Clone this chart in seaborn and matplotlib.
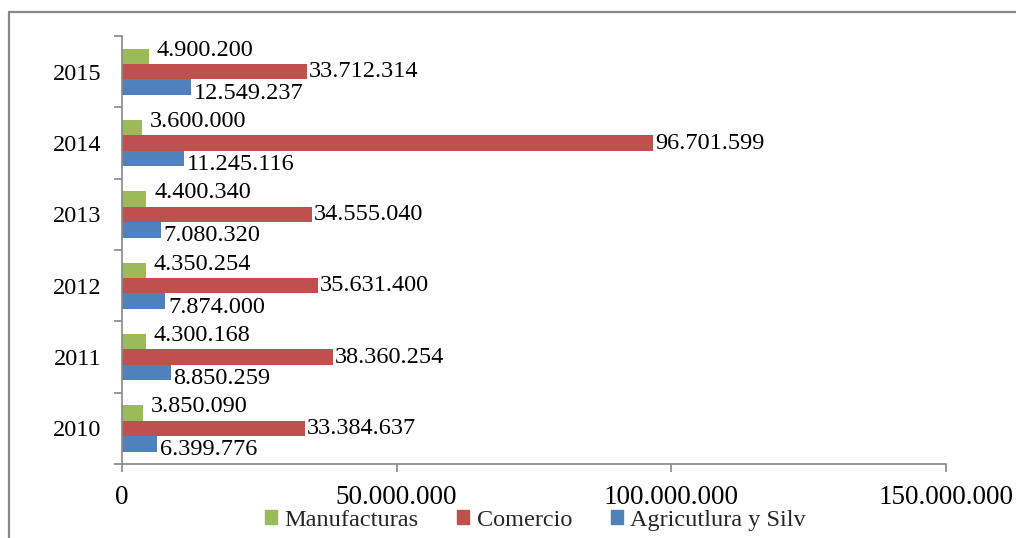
import matplotlib
matplotlib.use("Agg")
import matplotlib.pyplot as plt
from matplotlib.lines import Line2D
from matplotlib.ticker import FixedLocator, FuncFormatter
import seaborn as sns
import pandas as pd

years = ["2015", "2014", "2013", "2012", "2011", "2010"]
series = ["Manufacturas", "Comercio", "Agricutlura y Silv"]
manufacturas = [4900200, 3600000, 4400340, 4350254, 4300168, 3850090]
comercio = [33712314, 96701599, 34555040, 35631400, 38360254, 33384637]
agricultura = [12549237, 11245116, 7080320, 7874000, 8850259, 6399776]
x_ticks = [0, 50000000, 100000000, 150000000]

colors = ["#9BBB59", "#C0504D", "#4F81BD"]
FS = 17.5


def fmt_num(v):
    return f"{int(v):,}".replace(",", ".")


rows = []
for name, vals in zip(series, [manufacturas, comercio, agricultura]):
    for yr, v in zip(years, vals):
        rows.append({"Año": yr, "Serie": name, "Valor": v})
df = pd.DataFrame(rows)

sns.set_theme(style="white")
plt.rcParams["font.family"] = ["Liberation Serif", "DejaVu Serif"]

fig = plt.figure(figsize=(10.16, 5.38), dpi=100)
ax = fig.add_axes([0.120, 0.1375, 0.811, 0.7955])

sns.barplot(
    data=df, y="Año", x="Valor", hue="Serie", order=years, hue_order=series,
    palette=colors, orient="h", width=0.65, ax=ax, legend=True,
    edgecolor="none", linewidth=0, saturation=1,
)

# value labels next to each bar
y_shift = {0: 6, 1: 0, 2: -6}
x_pad = {0: 8, 1: 2, 2: 3}
for i, cont in enumerate(ax.containers):
    for bar in cont:
        w = bar.get_width()
        yc = bar.get_y() + bar.get_height() / 2
        ax.annotate(fmt_num(w), xy=(w, yc), xytext=(x_pad[i], y_shift[i]),
                    textcoords="offset pixels", ha="left", va="center",
                    fontsize=FS, color="black")

ax.set_xlim(0, 150000000)
ax.set_ylim(5.5, -0.5)
ax.set_xlabel("")
ax.set_ylabel("")

ax.xaxis.set_major_locator(FixedLocator(x_ticks))
ax.xaxis.set_major_formatter(FuncFormatter(lambda v, p: fmt_num(v)))
ax.tick_params(axis="x", which="major", length=6, width=1.2, color="#888888",
               direction="out", pad=9, labelsize=19.5, labelcolor="black",
               bottom=True)

ax.set_yticks(range(len(years)))
ax.set_yticklabels(years)
ax.set_yticks([k - 0.5 for k in range(len(years) + 1)], minor=True)
ax.tick_params(axis="y", which="major", length=0, pad=15, labelsize=FS,
               labelcolor="black")
ax.tick_params(axis="y", which="minor", length=6, width=1.2, color="#888888",
               direction="out", left=True)

for side in ["top", "right"]:
    ax.spines[side].set_visible(False)
for side in ["left", "bottom"]:
    ax.spines[side].set_color("#888888")
    ax.spines[side].set_linewidth(1.2)

ax.legend_.remove()
handles = [plt.Rectangle((0, 0), 1, 1, color=c) for c in colors]
fig.legend(handles, series, loc="center", bbox_to_anchor=(0.527, 0.033),
           ncol=3, frameon=False, fontsize=FS, handlelength=0.5,
           handleheight=0.5, handletextpad=0.3, columnspacing=1.6,
           borderpad=0)

# outer chart frame (top and left edges)
fx, fy = 9 / 1016, 1 - 12 / 538
fig.add_artist(Line2D([fx, 1.0], [fy, fy], transform=fig.transFigure,
                      color="#888888", linewidth=1.6))
fig.add_artist(Line2D([fx, fx], [fy, 0.0], transform=fig.transFigure,
                      color="#888888", linewidth=1.6))

fig.savefig("out.png", dpi=100)
